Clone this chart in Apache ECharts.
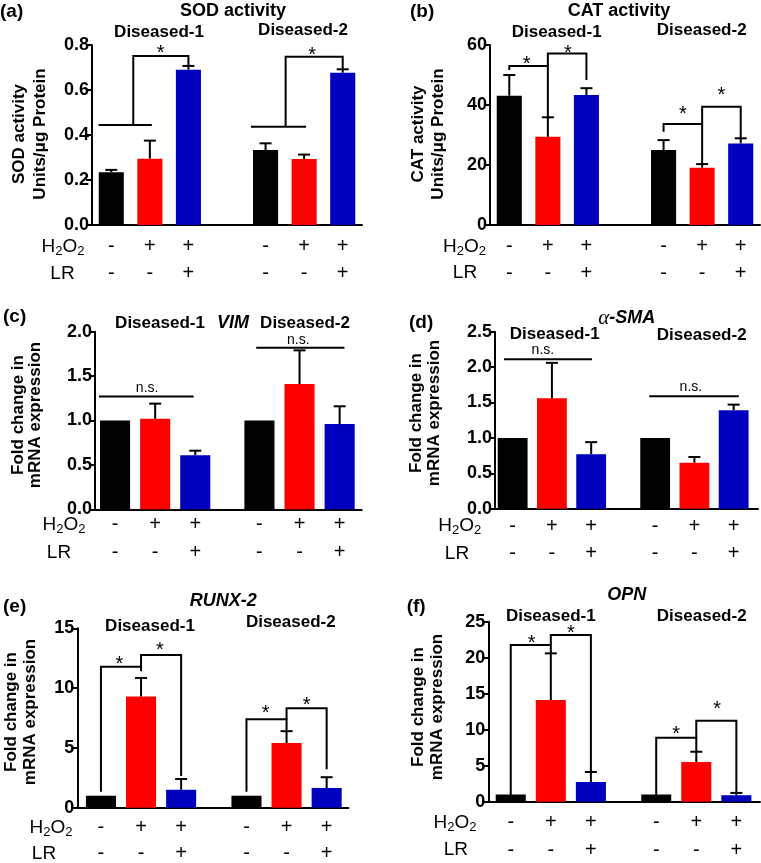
<!DOCTYPE html>
<html><head><meta charset="utf-8">
<script src="https://cdn.jsdelivr.net/npm/echarts@6.0.0/dist/echarts.min.js"></script>
<style>html,body{margin:0;padding:0;background:#fff}#c{width:761px;height:863px}</style>
</head><body><div id="c"></div>
<script>
// ---------------- DATA ----------------
const groupNames = ['Diseased-1', 'Diseased-2'];
const h2o2Signs = ['-', '+', '+', '-', '+', '+'];
const lrSigns   = ['-', '-', '+', '-', '-', '+'];

const sodTicks = [0, 0.2, 0.4, 0.6, 0.8];
const sodMean  = [0.235, 0.295, 0.69, 0.333, 0.293, 0.677];
const sodSD    = [0.01, 0.08, 0.017, 0.03, 0.02, 0.015];

const catTicks = [0, 20, 40, 60];
const catMean  = [43.1, 29.4, 43.3, 25.0, 19.1, 27.2];
const catSD    = [6.9, 6.5, 2.3, 3.3, 1.2, 1.7];

const vimTicks = [0, 0.5, 1.0, 1.5, 2.0];
const vimMean  = [1.0, 1.02, 0.61, 1.0, 1.41, 0.96];
const vimSD    = [0, 0.17, 0.05, 0, 0.38, 0.2];

const smaTicks = [0, 0.5, 1.0, 1.5, 2.0, 2.5];
const smaMean  = [1.0, 1.56, 0.77, 1.0, 0.65, 1.39];
const smaSD    = [0, 0.5, 0.17, 0, 0.08, 0.08];

const runxTicks = [0, 5, 10, 15];
const runxMean  = [1.0, 9.3, 1.5, 1.0, 5.4, 1.65];
const runxSD    = [0, 1.55, 0.9, 0, 1.0, 0.9];

const opnTicks = [0, 5, 10, 15, 20, 25];
const opnMean  = [1.0, 14.13, 2.74, 1.0, 5.51, 0.9];
const opnSD    = [0, 6.47, 1.39, 0, 1.43, 0.32];

// significance annotations: [bar index (fractional), value]
const sodLines = [
  [[-0.33, 0.444], [1.05, 0.444]],
  [[0.57, 0.444], [0.57, 0.751], [2, 0.751], [2, 0.707]],
  [[2.62, 0.437], [4.05, 0.437]],
  [[3.52, 0.437], [3.52, 0.748], [5, 0.748], [5, 0.692]]
];
const sodMarks = [['*', 1.28, 0.778], ['*', 4.21, 0.77]];

const catLines = [
  [[0, 51.7], [0, 53], [1, 53], [1, 35.9]],
  [[1, 53], [1, 57.2], [2, 57.2], [2, 48.3]],
  [[3, 31.1], [3, 33.7], [4, 33.7], [4, 20.3]],
  [[4, 33.7], [4, 39.4], [5, 39.4], [5, 29.1]]
];
const catMarks = [['*', 0.45, 55], ['*', 1.52, 58.6], ['*', 3.5, 38.3], ['*', 4.5, 44.4]];

const vimLines = [[[-0.4, 1.27], [1.96, 1.27]], [[2.92, 1.82], [5.12, 1.82]]];
const vimMarks = [['n.s.', 0.8, 1.36], ['n.s.', 3.97, 1.91]];

const smaLines = [[[-0.22, 2.11], [2.02, 2.11]], [[2.85, 1.59], [5.13, 1.59]]];
const smaMarks = [['n.s.', 0.77, 2.24], ['n.s.', 3.91, 1.72]];

const runxLines = [
  [[0, 1.34], [0, 11.79], [1, 11.79], [1, 11.4]],
  [[1, 11.79], [1, 12.77], [2, 12.77], [2, 2.65]],
  [[3, 1.34], [3, 7.39], [4, 7.39], [4, 6.5]],
  [[4, 7.39], [4, 8.31], [5, 8.31], [5, 3.21]]
];
const runxMarks = [['*', 0.46, 12.35], ['*', 1.47, 13.52], ['*', 3.48, 8.23], ['*', 4.5, 8.92]];

const opnLines = [
  [[0, 0.7], [0, 21.76], [1, 21.76], [1, 20.6]],
  [[1, 21.76], [1, 23.15], [2, 23.15], [2, 4.13]],
  [[3, 0.7], [3, 8.89], [4, 8.89], [4, 6.94]],
  [[4, 8.89], [4, 11.25], [5, 11.25], [5, 1.25]]
];
const opnMarks = [['*', 0.52, 22.56], ['*', 1.5, 23.94], ['*', 3.5, 9.86], ['*', 4.52, 13.43]];

// ---------------- LAYOUT ----------------
const FONT = '"Liberation Sans", Arial, Helvetica, sans-serif';
const COLORS = ['#000000', '#ff0000', '#0000bf'];

const panels = [
  { tag: '(a)', tagPos: [0, 12], title: 'SOD activity', titlePos: [233, 11],
    d1: [159, 32], d2: [303, 30], yname: ['SOD activity', 'Units/\u03bcg Protein'], ynameX: [19, 40], ynameY: 134,
    mean: sodMean, sd: sodSD, ticks: sodTicks, dec: 1, lines: sodLines, marks: sodMarks,
    grid: [92, 45, 270, 180], xMin: -0.5, xMax: 6.5, offset: 4, bw: 0.65,
    rows: [21.7, 48.5], h2x: 63, lrx: 62.5 },
  { tag: '(b)', tagPos: [410, 12], title: 'CAT activity', titlePos: [619, 11],
    d1: [556.7, 32], d2: [701.7, 30], yname: ['CAT activity', 'Units/\u03bcg Protein'], ynameX: [418.3, 438.3], ynameY: 134,
    mean: catMean, sd: catSD, ticks: catTicks, dec: 0, lines: catLines, marks: catMarks,
    grid: [490, 45, 270, 180], xMin: -0.5, xMax: 6.5, offset: 4, bw: 0.65,
    rows: [21.7, 48], h2x: 464.5, lrx: 465 },
  { tag: '(c)', tagPos: [3, 317], title: 'VIM', italic: true, titlePos: [233, 323],
    d1: [160, 323], d2: [305, 323], yname: ['Fold change in', 'mRNA expression'], ynameX: [18.3, 35.8], ynameY: 415,
    mean: vimMean, sd: vimSD, ticks: vimTicks, dec: 1, lines: vimLines, marks: vimMarks,
    grid: [95, 331.7, 266.7, 177.6], xMin: -0.5, xMax: 6.15, offset: 3.6, bw: 0.75,
    rows: [15.2, 43], h2x: 64, lrx: 59 },
  { tag: '(d)', tagPos: [409, 323], title: 'alpha', titlePos: [626.7, 318],
    d1: [554.7, 334], d2: [701.7, 335.8], yname: ['Fold change in', 'mRNA expression'], ynameX: [416.7, 434.2], ynameY: 413,
    mean: smaMean, sd: smaSD, ticks: smaTicks, dec: 1, lines: smaLines, marks: smaMarks,
    grid: [495, 331.7, 263, 177], xMin: -0.45, xMax: 6.25, offset: 3.63, bw: 0.76,
    rows: [17.3, 44.6], h2x: 459.7, lrx: 457 },
  { tag: '(e)', tagPos: [3, 606.7], title: 'RUNX-2', italic: true, titlePos: [223.3, 600.7],
    d1: [150, 626.7], d2: [290.8, 622.5], yname: ['Fold change in', 'mRNA expression'], ynameX: [11.7, 30], ynameY: 712,
    mean: runxMean, sd: runxSD, ticks: runxTicks, dec: 0, lines: runxLines, marks: runxMarks,
    grid: [77.3, 628.3, 271, 179.4], xMin: -0.59, xMax: 6.17, offset: 3.63, bw: 0.75,
    rows: [19.8, 45.6], h2x: 51, lrx: 44 },
  { tag: '(f)', tagPos: [406.7, 606.7], title: 'OPN', italic: true, titlePos: [626.7, 595],
    d1: [550.8, 616.7], d2: [701.7, 616.7], yname: ['Fold change in', 'mRNA expression'], ynameX: [418.3, 437.5], ynameY: 707,
    mean: opnMean, sd: opnSD, ticks: opnTicks, dec: 0, lines: opnLines, marks: opnMarks,
    grid: [488.3, 621.7, 271.7, 180], xMin: -0.56, xMax: 6.22, offset: 3.63, bw: 0.75,
    rows: [20.8, 48.3], h2x: 455, lrx: 455.8 }
];

const grids = [], xAxes = [], yAxes = [], series = [], graphics = [];

function txt(text, x, y, font, align) {
  return { type: 'text', x: x, y: y, silent: true,
    style: { text: text, font: font, fill: '#000', align: align || 'center', textAlign: align || 'center',
      verticalAlign: 'middle', textVerticalAlign: 'middle' } };
}

panels.forEach((p, pi) => {
  const xPos = i => (i % 3) + Math.floor(i / 3) * p.offset;
  const idxPos = b => { const k = Math.max(0, Math.min(5, Math.round(b))); return xPos(k) + (b - k); };
  grids.push({ left: p.grid[0], top: p.grid[1], width: p.grid[2], height: p.grid[3] });
  xAxes.push({ type: 'value', gridIndex: pi, min: p.xMin, max: p.xMax,
    axisLine: { show: true, onZero: false, lineStyle: { color: '#000', width: 2 } },
    axisTick: { show: false }, axisLabel: { show: false }, splitLine: { show: false } });
  const t = p.ticks;
  yAxes.push({ type: 'value', gridIndex: pi, min: t[0], max: t[t.length - 1], interval: t[1] - t[0],
    axisLine: { show: true, onZero: false, lineStyle: { color: '#000', width: 2 } },
    axisTick: { show: true, length: 6, lineStyle: { color: '#000', width: 2 } },
    axisLabel: { color: '#000', fontFamily: FONT, fontWeight: 'bold', fontSize: 18, margin: 3,
      formatter: v => Number(v).toFixed(p.dec) },
    splitLine: { show: false } });

  series.push({
    type: 'custom', xAxisIndex: pi, yAxisIndex: pi, silent: true,
    data: p.mean.map((m, i) => [i, m, p.sd[i]]),
    encode: { x: 0, y: 1 },
    renderItem: (params, api) => {
      const i = api.value(0), m = api.value(1), sd = api.value(2);
      const x = xPos(i);
      const tl = api.coord([x - p.bw / 2, m]);
      const br = api.coord([x + p.bw / 2, 0]);
      const base = api.coord([x, 0]);
      const children = [{ type: 'rect', shape: { x: tl[0], y: tl[1], width: br[0] - tl[0], height: br[1] - tl[1] },
        style: { fill: COLORS[i % 3] } }];
      if (sd > 0) {
        const top = api.coord([x, m + sd]);
        const bt = api.coord([x, m]);
        children.push({ type: 'line', shape: { x1: top[0], y1: top[1], x2: bt[0], y2: bt[1] }, style: { stroke: '#000', lineWidth: 2 } });
        children.push({ type: 'line', shape: { x1: top[0] - 6, y1: top[1], x2: top[0] + 6, y2: top[1] }, style: { stroke: '#000', lineWidth: 2 } });
      }
      [h2o2Signs[i], lrSigns[i]].forEach((s, r) => {
        children.push({ type: 'text', x: base[0], y: base[1] + p.rows[r],
          style: { text: s, font: '20px ' + FONT, fill: '#000', align: 'center', textAlign: 'center', verticalAlign: 'middle', textVerticalAlign: 'middle' } });
      });
      return { type: 'group', children: children };
    }
  });

  const items = p.lines.map((l, k) => ['L', k]).concat(p.marks.map((m, k) => ['M', k]));
  series.push({
    type: 'custom', xAxisIndex: pi, yAxisIndex: pi, silent: true,
    data: items.map((it, k) => [k, 0]),
    encode: { x: 0, y: 1 },
    renderItem: (params, api) => {
      const it = items[api.value(0)];
      if (it[0] === 'L') {
        const pts = p.lines[it[1]].map(q => api.coord([idxPos(q[0]), q[1]]));
        return { type: 'polyline', shape: { points: pts }, style: { stroke: '#000', lineWidth: 2, fill: null } };
      }
      const mk = p.marks[it[1]];
      const c = api.coord([idxPos(mk[1]), mk[2]]);
      const isStar = mk[0] === '*';
      return { type: 'text', x: c[0], y: c[1] + (isStar ? 4 : 0),
        style: { text: mk[0], font: (isStar ? '20px ' : '14px ') + FONT, fill: '#000', align: 'center', textAlign: 'center', verticalAlign: 'middle', textVerticalAlign: 'middle' } };
    }
  });

  graphics.push(txt(p.tag, p.tagPos[0], p.tagPos[1], 'bold 19px ' + FONT, 'left'));
  if (p.title === 'alpha') {
    graphics.push({ type: 'text', x: p.titlePos[0], y: p.titlePos[1], silent: true,
      style: { text: '{g|\u03b1}{t|-SMA}', align: 'center', textAlign: 'center', verticalAlign: 'middle', textVerticalAlign: 'middle', fill: '#000',
        rich: { g: { fontFamily: '"Liberation Serif", serif', fontStyle: 'italic', fontSize: 21, fill: '#000' },
                t: { fontFamily: FONT, fontStyle: 'italic', fontWeight: 'bold', fontSize: 18, fill: '#000' } } } });
  } else {
    graphics.push(txt(p.title, p.titlePos[0], p.titlePos[1], (p.italic ? 'italic ' : '') + 'bold 18px ' + FONT));
  }
  graphics.push(txt(groupNames[0], p.d1[0], p.d1[1], 'bold 17px ' + FONT));
  graphics.push(txt(groupNames[1], p.d2[0], p.d2[1], 'bold 17px ' + FONT));
  p.yname.forEach((s, k) => {
    const g = txt(s, p.ynameX[k], p.ynameY, 'bold 17px ' + FONT);
    g.rotation = Math.PI / 2;
    graphics.push(g);
  });
  const zeroY = p.grid[1] + p.grid[3];
  graphics.push({ type: 'text', x: p.h2x, y: zeroY + p.rows[0], silent: true,
    style: { text: '{m|H}{s|2}{m|O}{s|2}', align: 'center', textAlign: 'center', verticalAlign: 'middle', textVerticalAlign: 'middle', fill: '#000',
      rich: { m: { fontFamily: FONT, fontSize: 19, lineHeight: 22, fill: '#000', verticalAlign: 'middle' },
              s: { fontFamily: FONT, fontSize: 13, lineHeight: 13, fill: '#000', verticalAlign: 'bottom' } } } });
  graphics.push(txt('LR', p.lrx, zeroY + p.rows[1], '19px ' + FONT));
});

const chart = echarts.init(document.getElementById('c'), null, { renderer: 'canvas' });
chart.setOption({
  animation: false,
  backgroundColor: '#ffffff',
  grid: grids, xAxis: xAxes, yAxis: yAxes, series: series, graphic: graphics
});
</script></body></html>
